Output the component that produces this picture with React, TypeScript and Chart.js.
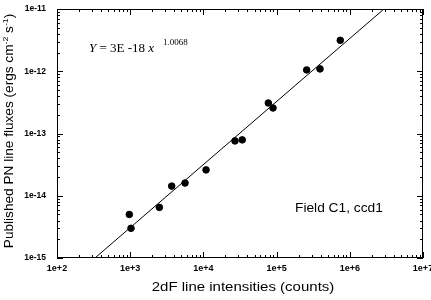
import React, { useEffect, useRef } from "react";
import { Chart, registerables } from "chart.js";

Chart.register(...registerables);

// 2dF line intensities (counts)
const intensities = [973, 1026, 2500, 3690, 5610, 10870, 27000, 33950, 77100, 89300, 257600, 391600, 741000];
// Published PN line fluxes (ergs cm^-2 s^-1)
const fluxes = [5.0e-15, 3.0e-15, 6.5e-15, 1.43e-14, 1.6e-14, 2.6e-14, 7.6e-14, 7.9e-14, 3.09e-13, 2.57e-13, 1.05e-12, 1.09e-12, 3.14e-12];
// Fit line end points (Y = 3E-18 x^1.0068)
const fitX = [330, 2930000];
const fitY = [1e-15, 1e-11];
const xTicks = [1e2, 1e3, 1e4, 1e5, 1e6, 1e7];
const xTickLabels = ["1e+2", "1e+3", "1e+4", "1e+5", "1e+6", "1e+7"];
const yTicks = [1e-15, 1e-14, 1e-13, 1e-12, 1e-11];
const yTickLabels = ["1e-15", "1e-14", "1e-13", "1e-12", "1e-11"];

const SANS = "'Liberation Sans', Arial, sans-serif";
const SERIF = "'Liberation Serif', 'Times New Roman', serif";

const decorPlugin = {
  id: "decor",
  afterDraw(chart: any) {
    const { ctx, chartArea: a, scales } = chart;
    const xs = scales.x;
    const ys = scales.y;
    ctx.save();
    ctx.strokeStyle = "#000";
    ctx.lineWidth = 1;
    ctx.strokeRect(a.left + 0.5, a.top + 0.5, a.right - a.left - 1, a.bottom - a.top - 1);
    ctx.beginPath();
    for (let d = 0; d < xTicks.length; d++) {
      const base = xTicks[d];
      for (let m = 1; m <= 9; m++) {
        const v = base * m;
        if (v > xTicks[xTicks.length - 1]) break;
        const px = Math.round(xs.getPixelForValue(v)) + 0.5;
        const len = m === 1 ? 6 : 3;
        ctx.moveTo(px, a.bottom);
        ctx.lineTo(px, a.bottom - len);
        ctx.moveTo(px, a.top);
        ctx.lineTo(px, a.top + len);
      }
    }
    for (let d = 0; d < yTicks.length; d++) {
      const base = yTicks[d];
      for (let m = 1; m <= 9; m++) {
        const v = base * m;
        if (v > yTicks[yTicks.length - 1] * 1.0001) break;
        const py = Math.round(ys.getPixelForValue(v)) + 0.5;
        const len = m === 1 ? 6 : 3;
        ctx.moveTo(a.left, py);
        ctx.lineTo(a.left + len, py);
        ctx.moveTo(a.right, py);
        ctx.lineTo(a.right - len, py);
      }
    }
    ctx.stroke();

    ctx.fillStyle = "#000";
    // x title
    ctx.save();
    ctx.font = `12.5px ${SANS}`;
    ctx.textAlign = "center";
    ctx.textBaseline = "middle";
    ctx.translate(243, 288);
    ctx.scale(1.2, 1);
    ctx.fillText("2dF line intensities (counts)", 0, 0);
    ctx.restore();

    // y title (rotated)
    ctx.save();
    ctx.translate(10, 131);
    ctx.rotate(-Math.PI / 2);
    ctx.scale(1.09, 1);
    ctx.textBaseline = "middle";
    const parts: [string, boolean][] = [
      ["Published PN line fluxes (ergs cm", false],
      ["-2", true],
      [" s", false],
      ["-1", true],
      [")", false],
    ];
    let total = 0;
    for (const [t, sup] of parts) {
      ctx.font = sup ? `8px ${SANS}` : `12.5px ${SANS}`;
      total += ctx.measureText(t).width;
    }
    let cx = -total / 2;
    ctx.textAlign = "left";
    for (const [t, sup] of parts) {
      ctx.font = sup ? `8px ${SANS}` : `12.5px ${SANS}`;
      ctx.fillText(t, cx, sup ? -4 : 0);
      cx += ctx.measureText(t).width;
    }
    ctx.restore();

    // equation
    ctx.save();
    ctx.textBaseline = "alphabetic";
    ctx.textAlign = "left";
    let ex = 89;
    const eqParts: [string, string][] = [
      ["Y", `italic 13px ${SERIF}`],
      [" = 3E -18 ", `13px ${SERIF}`],
      ["x", `italic 13px ${SERIF}`],
    ];
    for (const [t, f] of eqParts) {
      ctx.font = f;
      ctx.fillText(t, ex, 52);
      ex += ctx.measureText(t).width;
    }
    ctx.font = `9px ${SERIF}`;
    ctx.fillText("1.0068", ex + 9, 45);
    ctx.restore();

    // annotation
    ctx.save();
    ctx.font = `12.5px ${SANS}`;
    ctx.textAlign = "left";
    ctx.textBaseline = "middle";
    ctx.translate(295, 209);
    ctx.scale(1.1, 1);
    ctx.fillText("Field C1, ccd1", 0, 0);
    ctx.restore();
    ctx.restore();
  },
};

export default function App() {
  const ref = useRef<HTMLCanvasElement | null>(null);
  useEffect(() => {
    document.body.style.margin = "0";
    const canvas = ref.current;
    if (!canvas) return;
    const chart = new Chart(canvas, {
      type: "scatter",
      data: {
        datasets: [
          {
            label: "data",
            data: intensities.map((x, i) => ({ x, y: fluxes[i] })),
            backgroundColor: "#000",
            borderColor: "#000",
            pointRadius: 3.3,
            showLine: false,
          },
          {
            label: "fit",
            data: fitX.map((x, i) => ({ x, y: fitY[i] })),
            borderColor: "#000",
            borderWidth: 1,
            pointRadius: 0,
            showLine: true,
          },
        ],
      },
      options: {
        responsive: false,
        animation: false,
        plugins: { legend: { display: false }, tooltip: { enabled: false } },
        layout: { padding: { left: 0, right: 8, top: 9, bottom: 0 } },
        scales: {
          x: {
            type: "logarithmic",
            min: 1e2,
            max: 1e7,
            grid: { display: false, drawTicks: false },
            border: { display: false },
            afterBuildTicks: (s: any) => {
              s.ticks = xTicks.map((v) => ({ value: v }));
            },
            afterFit: (s: any) => {
              s.height = 42;
              s.paddingLeft = 0;
              s.paddingRight = 0;
            },
            ticks: {
              color: "#000",
              font: { family: SANS, size: 9, weight: "bold" },
              padding: 5,
              maxRotation: 0,
              autoSkip: false,
              callback: (v: any) => {
                const i = xTicks.findIndex((t) => Math.abs(t - Number(v)) / t < 1e-6);
                return i >= 0 ? xTickLabels[i] : "";
              },
            },
          },
          y: {
            type: "logarithmic",
            min: 1e-15,
            max: 1e-11,
            grid: { display: false, drawTicks: false },
            border: { display: false },
            afterBuildTicks: (s: any) => {
              s.ticks = yTicks.map((v) => ({ value: v }));
            },
            afterFit: (s: any) => {
              s.width = 57;
              s.paddingTop = 0;
              s.paddingBottom = 0;
            },
            ticks: {
              color: "#000",
              font: { family: SANS, size: 8.5, weight: "bold" },
              padding: 11,
              autoSkip: false,
              callback: (v: any) => {
                const i = yTicks.findIndex((t) => Math.abs(t - Number(v)) / t < 1e-6);
                return i >= 0 ? yTickLabels[i] : "";
              },
            },
          },
        },
      },
      plugins: [decorPlugin],
    });
    return () => chart.destroy();
  }, []);
  return (
    <div style={{ position: "absolute", left: 0, top: 0, width: 431, height: 300, background: "#fff" }}>
      <canvas ref={ref} width={431} height={300} style={{ width: 431, height: 300 }} />
    </div>
  );
}
